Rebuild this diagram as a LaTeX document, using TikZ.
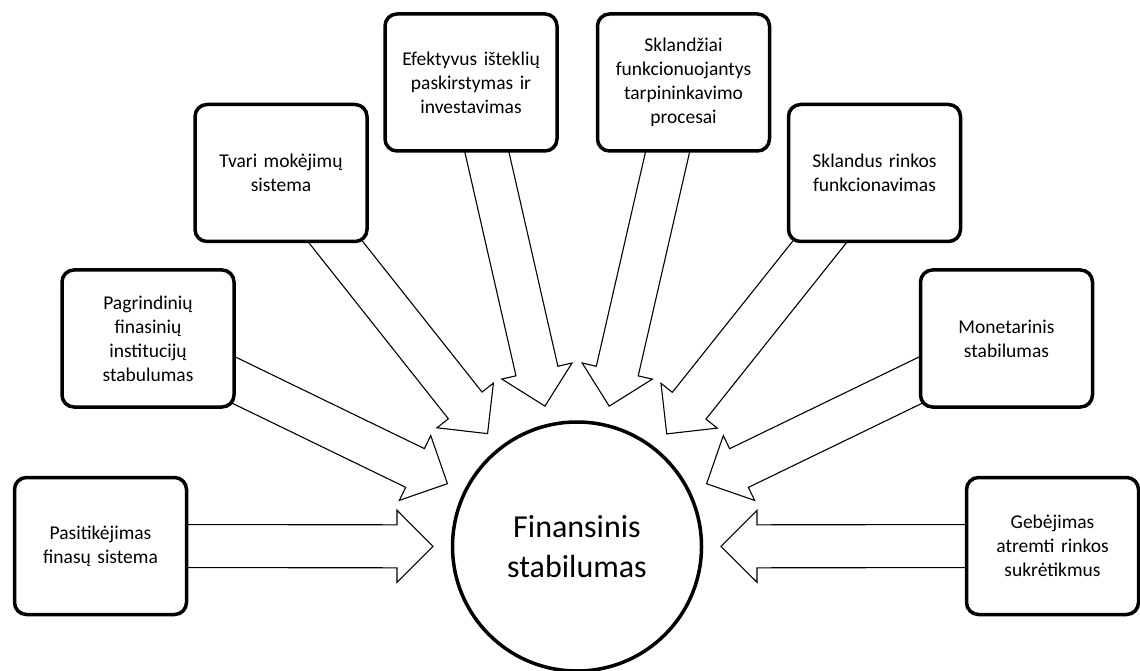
\documentclass[tikz,border=0pt]{standalone}
\usepackage{fontspec}
\setmainfont{Carlito}
\usetikzlibrary{calc}

\newcommand{\blockarrow}[2]{%
	\coordinate (hb) at ($(#2)!36pt!(#1)$);
	\draw [arrowbody] ($(#1)!21.5pt!90:(#2)$) -- ($(hb)!21.5pt!90:(#2)$) -- ($(hb)!36pt!90:(#2)$) -- (#2)
		-- ($(hb)!36pt!-90:(#2)$) -- ($(hb)!21.5pt!-90:(#2)$) -- ($(#1)!21.5pt!-90:(#2)$) -- cycle;
}

\begin{document}
\begin{tikzpicture}[
			x=1pt, y=1pt,
			font=\fontsize{19.5}{24}\selectfont,
			factor/.style={rectangle, draw, line width=3.5pt, rounded corners=12pt, fill=white,
				minimum width=172pt, minimum height=137pt, text width=164pt, align=center, inner sep=0pt},
			hub/.style={circle, draw, line width=3.5pt, fill=white, minimum size=249pt,
				align=center, font=\fontsize{32}{40}\selectfont},
			arrowbody/.style={draw, line width=1.1pt, fill=white, line join=miter},
			]
			\useasboundingbox (0,0) rectangle (1140,670);
			\node [hub] (fs) at (577,123.5) {Finansinis\\stabilumas};
			\coordinate (pas) at (100.5,124);
			\coordinate (pag) at (148,331.5);
			\coordinate (tva) at (281,497);
			\coordinate (efe) at (471,587.5);
			\coordinate (skz) at (683.5,587.5);
			\coordinate (skl) at (874.5,497);
			\coordinate (mon) at (1006.5,331.5);
			\coordinate (geb) at (1052.5,124);
			\foreach \b in {pas,pag,tva,efe,skz,skl,mon,geb} {
				\coordinate (tip-\b) at ($(fs.center)!144pt!(\b)$);
				\blockarrow{\b}{tip-\b}
			}
			\node [factor] (pasN) at (pas) {Pasitikėjimas\\finasų sistema};
			\node [factor] (pagN) at (pag) {Pagrindinių\\finasinių\\institucijų\\stabulumas};
			\node [factor] (tvaN) at (tva) {Tvari mokėjimų\\sistema};
			\node [factor] (efeN) at (efe) {Efektyvus išteklių\\paskirstymas ir\\investavimas};
			\node [factor] (skzN) at (skz) {Sklandžiai\\funkcionuojantys\\tarpininkavimo\\procesai};
			\node [factor] (sklN) at (skl) {Sklandus rinkos\\funkcionavimas};
			\node [factor] (monN) at (mon) {Monetarinis\\stabilumas};
			\node [factor] (gebN) at (geb) {Gebėjimas\\atremti rinkos\\sukrėtikmus};
		\end{tikzpicture}
\end{document}
